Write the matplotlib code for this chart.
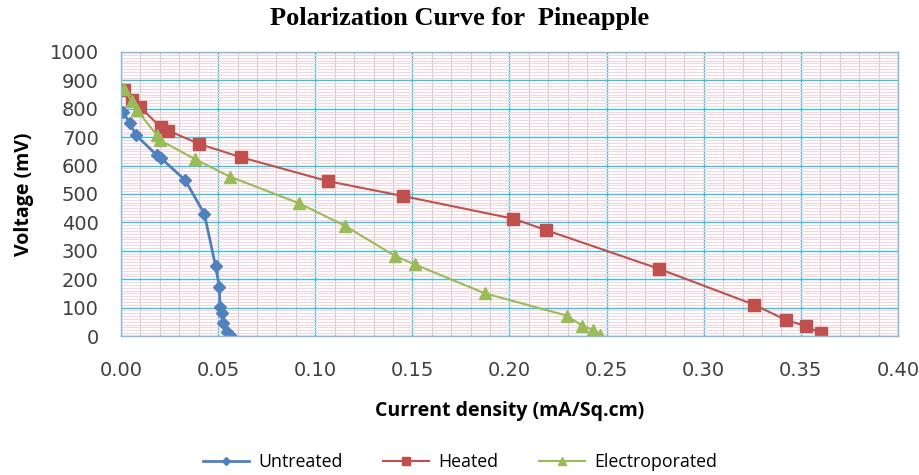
import matplotlib
matplotlib.use("Agg")
import matplotlib.pyplot as plt
from matplotlib.ticker import MultipleLocator, FormatStrFormatter

# Data (current density mA/sq.cm, voltage mV)
untreated_x = [0.0009, 0.0046, 0.0076, 0.0184, 0.0206, 0.033, 0.0429, 0.0487,
               0.0506, 0.0510, 0.0518, 0.0527, 0.0544, 0.0561]
untreated_y = [790, 749, 708, 637, 626, 549, 430, 246, 174, 103, 80, 45, 15, 4]

heated_x = [0.0015, 0.0058, 0.0098, 0.0204, 0.0244, 0.0403, 0.062, 0.1066,
            0.145, 0.202, 0.2187, 0.2772, 0.326, 0.3424, 0.3527, 0.3602]
heated_y = [866, 831, 807, 735, 723, 676, 629, 545, 493, 413, 373, 236, 110,
            56, 35, 9]

electro_x = [0.0015, 0.0055, 0.0081, 0.0184, 0.020, 0.038, 0.0561, 0.0918,
             0.1153, 0.141, 0.1513, 0.1874, 0.2294, 0.2375, 0.2432, 0.2466]
electro_y = [870, 827, 796, 708, 690, 623, 561, 467, 388, 282, 252, 150, 72,
             36, 21, 4]

x_ticks = [0.00, 0.05, 0.10, 0.15, 0.20, 0.25, 0.30, 0.35, 0.40]
y_ticks = [0, 100, 200, 300, 400, 500, 600, 700, 800, 900, 1000]

fig = plt.figure(figsize=(9.2, 4.75), dpi=100)
ax = fig.add_axes([121/920, 1-336/475, (898-121)/920, (336-52)/475])

ax.set_xlim(0, 0.40)
ax.set_ylim(0, 1000)
ax.set_xticks(x_ticks)
ax.set_yticks(y_ticks)
ax.xaxis.set_major_formatter(FormatStrFormatter('%.2f'))
ax.xaxis.set_minor_locator(MultipleLocator(0.01))
ax.yaxis.set_minor_locator(MultipleLocator(10))

ax.grid(which='minor', axis='x', color='#cfc8cf', linewidth=0.8)
ax.grid(which='minor', axis='y', color='#f0d8de', linewidth=0.8)
ax.grid(which='major', axis='both', color='#3fc0dc', linewidth=1.0)
ax.set_axisbelow(True)
ax.tick_params(which='both', length=0, labelsize=14, colors='#404040')
ax.tick_params(axis='y', pad=16)
ax.tick_params(axis='x', pad=18)
for s in ax.spines.values():
    s.set_color('#8fb8d8')
    s.set_linewidth(1.0)

ax.plot(untreated_x, untreated_y, color='#4f81bd', marker='D', markersize=6,
        linewidth=2, label='Untreated')
ax.plot(heated_x, heated_y, color='#c0504d', marker='s', markersize=9,
        linewidth=1.5, label='Heated')
ax.plot(electro_x, electro_y, color='#9bbb59', marker='^', markersize=8,
        linewidth=1.5, label='Electroporated')

fig.text(0.5, 1-18/475, 'Polarization Curve for  Pineapple', ha='center',
         va='center', fontsize=19, fontweight='bold', family='Liberation Serif')
ax.set_xlabel('Current density (mA/Sq.cm)', fontsize=14, fontweight='bold',
              family='Open Sans', labelpad=15)
ax.set_ylabel('Voltage (mV)', fontsize=14, fontweight='bold',
              family='Open Sans', labelpad=11)

fig.legend(loc='center', bbox_to_anchor=(0.5, 1-462/475), ncol=3, frameon=False,
           handlelength=2.6, columnspacing=2.3, markerscale=0.7, handletextpad=0.5,
           prop={'family': 'Open Sans', 'size': 12.8})

fig.savefig('out.png', dpi=100)
